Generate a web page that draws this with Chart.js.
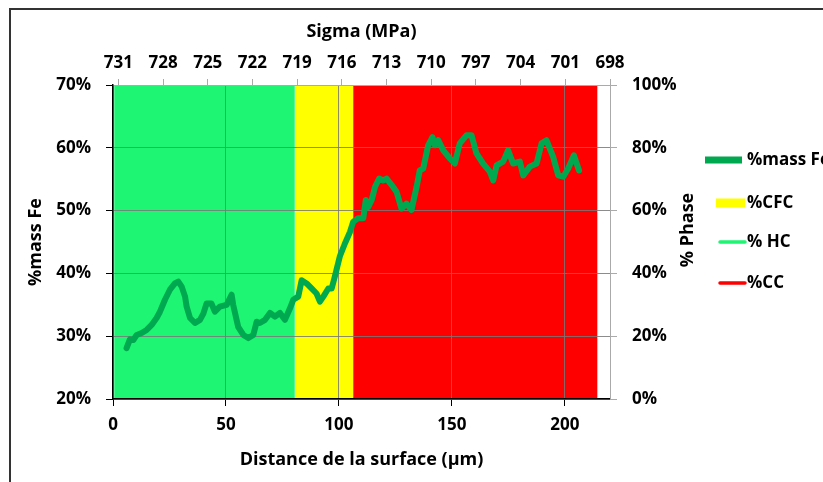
<!DOCTYPE html>
<html>
<head>
<meta charset="utf-8">
<script src="https://cdn.jsdelivr.net/npm/chart.js@4/dist/chart.umd.min.js"></script>
<style>
  body { margin: 0; background: #fff; }
  #wrap { position: relative; width: 823px; height: 482px; overflow: hidden; }
  #frame { position: absolute; left: 9px; top: 8px; right: -5px; bottom: -5px;
           border-top: 2px solid #333; border-left: 2px solid #333; pointer-events: none; }
</style>
</head>
<body>
<div id="wrap">
  <canvas id="chart" width="823" height="482"></canvas>
  <div id="frame"></div>
</div>
<script>
// distance from surface (µm) and iron mass fraction (%)
const distance = [6.0, 7.5, 9, 10.5, 12.7, 14.9, 17.1, 19.3, 20.8, 23,
  25.2, 27.4, 28.9, 30.4, 31.9, 32.6, 34.1, 36.3, 38.5, 40,
  41.4, 43.6, 45.1, 47.3, 50.3, 52.5, 53.2, 55.4, 57.7, 59.9,
  62.1, 63.6, 65.0, 67.3, 69.5, 71.7, 73.9, 76.1, 78.3, 79.8,
  82, 83.5, 85.7, 87.9, 90.1, 91.6, 93.1, 95.3, 96.8, 98.2,
  100.4, 102.7, 104.9, 106.3, 108.5, 110.8, 111.9, 113, 114.5, 116,
  117.8, 119.6, 121.1, 123.3, 125.5, 127.7, 129.9, 132.1, 134.4, 135.8,
  137.3, 139.5, 141.4, 142.5, 144, 146.2, 149.1, 151.3, 153.5, 156.5,
  158.7, 160.9, 163.8, 166.8, 168.3, 169.8, 172.7, 174.9, 177.1, 180.1,
  181.6, 184.5, 187.5, 189.7, 191.9, 194.8, 197.1, 199.3, 201.5, 204,
  206.3];
const massFe = [28.1, 29.5, 29.4, 30.2, 30.5, 31.0, 31.8, 32.9, 33.9, 35.8,
  37.4, 38.4, 38.7, 37.9, 36.3, 34.7, 32.9, 32.1, 32.6, 33.6,
  35.2, 35.2, 33.9, 34.7, 35.0, 36.6, 35.0, 31.5, 30.2, 29.7,
  30.2, 32.3, 32.1, 32.6, 33.7, 33.1, 33.7, 32.6, 34.4, 35.8,
  36.3, 38.9, 38.4, 37.6, 36.8, 35.5, 36.3, 37.6, 37.6, 39.5,
  42.7, 44.8, 46.6, 48.2, 48.8, 48.8, 51.7, 50.6, 51.7, 53.8,
  55.1, 54.8, 55.1, 54.1, 53.0, 50.3, 51.1, 50.1, 53.8, 56.4,
  56.7, 60.4, 61.7, 60.4, 61.2, 59.6, 58.3, 57.5, 60.7, 62.0,
  62.0, 59.1, 57.5, 56.2, 54.8, 57.2, 57.8, 59.6, 57.5, 57.8,
  55.6, 57.0, 57.5, 60.7, 61.2, 58.6, 55.6, 55.4, 56.7, 58.8,
  56.4];

// phase zones: % HC, %CFC, %CC
const phaseNames = ['% HC', '%CFC', '%CC'];
const phaseStart = [0.5, 80.5, 106.3];
const phaseEnd = [80.5, 106.3, 214.5];
const phasePct = [100, 100, 100];
const phaseColors = ['#1ef573', '#ffff00', '#ff0000'];

const sigmaLabels = ['731', '728', '725', '722', '719', '716', '713', '710', '797', '704', '701', '698'];

const legendItems = [
  { text: '%mass Fe', color: '#00a84f', kind: 'thick' },
  { text: '%CFC', color: '#ffff00', kind: 'box' },
  { text: '% HC', color: '#1ef573', kind: 'line' },
  { text: '%CC', color: '#ff0000', kind: 'line' }
];

const FONT = '"Open Sans", "Noto Sans", sans-serif';
const tickFont = { family: FONT, size: 17, weight: 'bold' };
const titleFont = { family: FONT, size: 18, weight: 'bold' };

const lineData = distance.map((d, i) => ({ x: d, y: massFe[i] }));

const phaseSets = phaseNames.map((name, i) => ({
  label: name,
  data: [{ x: phaseStart[i], y: phasePct[i] }, { x: phaseEnd[i], y: phasePct[i] }],
  yAxisID: 'y1',
  borderWidth: 0,
  pointRadius: 0,
  backgroundColor: phaseColors[i],
  fill: 'origin'
}));

// legend + right axis title drawn by hand
const sidePlugin = {
  id: 'sideStuff',
  afterDraw(chart) {
    const ctx = chart.ctx;
    ctx.save();
    ctx.font = 'bold 17px ' + FONT;
    ctx.fillStyle = '#000';
    ctx.textBaseline = 'middle';
    const ys = [160, 203, 242, 283];
    legendItems.forEach((it, i) => {
      const y = ys[i];
      if (it.kind === 'thick') {
        ctx.fillStyle = it.color;
        ctx.fillRect(705, y - 3.5, 37, 7);
      } else if (it.kind === 'box') {
        ctx.fillStyle = it.color;
        ctx.fillRect(716, y - 4.5, 29, 9);
      } else {
        ctx.strokeStyle = it.color;
        ctx.lineWidth = 3.5;
        ctx.lineCap = 'round';
        ctx.beginPath();
        ctx.moveTo(720, y);
        ctx.lineTo(745, y);
        ctx.stroke();
      }
      ctx.fillStyle = '#000';
      ctx.textAlign = 'left';
      ctx.fillText(it.text, 747, y);
    });
    // "% Phase" reading upward
    ctx.font = 'bold 18px ' + FONT;
    ctx.translate(688, 230);
    ctx.rotate(-Math.PI / 2);
    ctx.textAlign = 'center';
    ctx.fillText('% Phase', 0, 0);
    ctx.restore();
  }
};

new Chart(document.getElementById('chart'), {
  type: 'line',
  data: {
    datasets: [
      {
        label: '%mass Fe',
        data: lineData,
        yAxisID: 'y',
        borderColor: '#00a84f',
        borderWidth: 6,
        pointRadius: 0,
        borderJoinStyle: 'round',
        borderCapStyle: 'round',
        fill: false
      },
      ...phaseSets
    ]
  },
  options: {
    responsive: false,
    animation: false,
    layout: { padding: { left: 0, right: 123, top: 0, bottom: 0 } },
    plugins: {
      legend: { display: false },
      tooltip: { enabled: false },
      filler: { drawTime: 'beforeDraw' }
    },
    scales: {
      x: {
        type: 'linear',
        position: 'bottom',
        min: 0,
        max: 220,
        ticks: { stepSize: 50, includeBounds: false, color: '#000', font: tickFont, padding: 9, maxRotation: 0 },
        grid: { color: 'rgba(120,120,120,0.85)', tickColor: '#000', tickLength: 7 },
        border: { color: '#000', width: 1.5 },
        title: { display: true, text: 'Distance de la surface (µm)', color: '#000', font: titleFont, padding: { top: 0, bottom: 11 } },
        afterFit(s) { s.height = 83; }
      },
      x2: {
        type: 'linear',
        position: 'top',
        display: true,
        min: -0.12,
        max: 11,
        afterBuildTicks(s) { s.ticks = sigmaLabels.map((_, i) => ({ value: i })); },
        ticks: { color: '#000', font: tickFont, padding: 6, maxRotation: 0, autoSkip: false,
                 callback: (v) => sigmaLabels[Math.round(v)] },
        grid: { drawOnChartArea: false, color: '#aaa', tickLength: 6 },
        border: { color: '#aaa' },
        title: { display: true, text: 'Sigma (MPa)', color: '#000', font: titleFont, padding: { top: 21, bottom: 0 } },
        afterFit(s) { s.height = 85; }
      },
      y: {
        type: 'linear',
        position: 'left',
        min: 20,
        max: 70,
        ticks: { stepSize: 10, color: '#000', font: tickFont, padding: 15, callback: (v) => v + '%' },
        grid: { color: 'rgba(120,120,120,0.85)', tickColor: '#000', tickLength: 7 },
        border: { color: '#000', width: 1.5 },
        title: { display: true, text: '%mass Fe', color: '#000', font: titleFont, padding: { top: 25, bottom: 0 } },
        afterFit(s) { s.width = 113; }
      },
      y1: {
        type: 'linear',
        position: 'right',
        min: 0,
        max: 100,
        ticks: { stepSize: 20, color: '#000', font: tickFont, padding: 15, callback: (v) => v + '%' },
        grid: { drawOnChartArea: false, color: '#aaa', tickLength: 7 },
        border: { color: '#aaa' },
        afterFit(s) { s.width = 90; }
      }
    }
  },
  plugins: [sidePlugin]
});
</script>
</body>
</html>
